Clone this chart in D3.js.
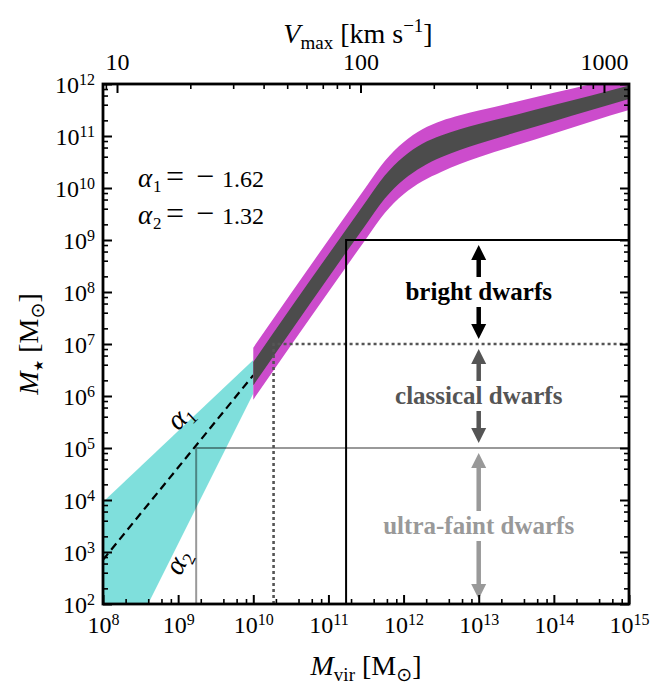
<!DOCTYPE html>
<html>
<head>
<meta charset="utf-8">
<script src="https://cdn.jsdelivr.net/npm/d3@7"></script>
<style>
  body { margin: 0; background: #fff; }
  svg text { font-family: "Liberation Serif", "DejaVu Serif", serif; fill: #000; }
  .domain { display: none; }
  .tick line { stroke: #000; }
</style>
</head>
<body>
<script>
// stellar-to-halo mass band, log10 values
var bandLogMvir  = [10.0, 10.5, 11.0, 11.5, 11.75, 12.0, 12.25, 12.5, 12.75, 13.0, 13.5, 14.0, 14.5, 15.0, 15.2];
var bandLogMstar = [6.43, 7.47, 8.50, 9.52, 10.02, 10.38, 10.63, 10.80, 10.93, 11.04, 11.24, 11.44, 11.64, 11.84, 11.92];
var innerHalf    = [0.225, 0.225, 0.22, 0.22, 0.22, 0.22, 0.22, 0.21, 0.20, 0.19, 0.17, 0.155, 0.14, 0.13, 0.13];
var outerHalf    = [0.50, 0.50, 0.50, 0.50, 0.50, 0.50, 0.50, 0.49, 0.47, 0.45, 0.42, 0.39, 0.36, 0.34, 0.34];

// low-mass extrapolation wedge (alpha1 / alpha2) and the dashed mean line
var wedgeLogMvir  = [8.0, 10.0, 10.0, 8.6, 8.0];
var wedgeLogMstar = [3.96, 6.69, 6.05, 2.0, 2.0];
var dashLogMvir   = [8.0, 10.0];
var dashLogMstar  = [2.85, 6.40];

// dwarf classes: halo-mass thresholds and stellar-mass bounds
var threshLogMvir  = [9.24, 10.27, 11.235];
var threshLogMstar = [5, 7, 9];
var classNames  = ["ultra-faint dwarfs", "classical dwarfs", "bright dwarfs"];
var classLow    = [2, 5, 7];
var classHigh   = [5, 7, 9];
var classColors = ["#999999", "#555555", "#000000"];
var arrowLogMvir = 13;

var alphaNames  = ["1", "2"];
var alphaValues = ["1.62", "1.32"];

// axes
var xDomain = [1e8, 1e15];
var yDomain = [1e2, 1e12];
var vmaxDomain = [8.76, 1267];
var vmaxMajor = [10, 100, 1000];

var W = 664, H = 687;
var margin = {top: 84, right: 35, bottom: 83, left: 103};
var width = W - margin.left - margin.right,
    height = H - margin.top - margin.bottom;

var svg = d3.select("body").append("svg")
    .attr("width", W)
    .attr("height", H);

var g = svg.append("g")
    .attr("transform", "translate(" + margin.left + "," + margin.top + ")");

var x = d3.scaleLog().domain(xDomain).range([0, width]);
var y = d3.scaleLog().domain(yDomain).range([height, 0]);
var xTop = d3.scaleLog().domain(vmaxDomain).range([0, width]);

g.append("clipPath").attr("id", "plotclip")
  .append("rect").attr("width", width).attr("height", height);

var plot = g.append("g").attr("clip-path", "url(#plotclip)");

// cyan wedge
var wedge = wedgeLogMvir.map(function(m, i) { return [x(Math.pow(10, m)), y(Math.pow(10, wedgeLogMstar[i]))]; });
plot.append("path")
    .attr("d", "M" + wedge.join("L") + "Z")
    .attr("fill", "#7fdfdc");

plot.append("path")
    .datum(dashLogMvir.map(function(m, i) { return [m, dashLogMstar[i]]; }))
    .attr("fill", "none")
    .attr("stroke", "#000")
    .attr("stroke-width", 2.2)
    .attr("stroke-dasharray", "8,5")
    .attr("d", d3.line()
      .x(function(d) { return x(Math.pow(10, d[0])); })
      .y(function(d) { return y(Math.pow(10, d[1])); }));

// band
var band = bandLogMvir.map(function(m, i) {
  return {m: m, s: bandLogMstar[i], a: innerHalf[i], b: outerHalf[i]};
});

function bandArea(key) {
  return d3.area()
    .curve(d3.curveMonotoneX)
    .x(function(d) { return x(Math.pow(10, d.m)); })
    .y0(function(d) { return y(Math.pow(10, d.s - d[key])); })
    .y1(function(d) { return y(Math.pow(10, d.s + d[key])); });
}

plot.append("path").datum(band).attr("fill", "#cc4ccc").attr("d", bandArea("b"));
plot.append("path").datum(band).attr("fill", "#4c4c4c").attr("d", bandArea("a"));

// threshold boxes
var lineStyles = [
  {stroke: "#000", opacity: 0.4, width: 2, dash: null},
  {stroke: "#555", opacity: 1, width: 2.6, dash: "3,3"},
  {stroke: "#000", opacity: 1, width: 2, dash: null}
];
threshLogMvir.forEach(function(m, i) {
  var xv = x(Math.pow(10, m)), yv = y(Math.pow(10, threshLogMstar[i]));
  var s = lineStyles[i];
  plot.append("path")
    .attr("d", "M" + xv + "," + height + "L" + xv + "," + yv + "L" + width + "," + yv)
    .attr("fill", "none")
    .attr("stroke", s.stroke)
    .attr("stroke-opacity", s.opacity)
    .attr("stroke-width", s.width)
    .attr("stroke-dasharray", s.dash);
});

// class labels with arrows
var ax = x(Math.pow(10, arrowLogMvir));
function arrow(y0, y1, col) {
  var dir = y1 > y0 ? 1 : -1;
  var hb = y1 - dir * 15;
  plot.append("line")
    .attr("x1", ax).attr("x2", ax)
    .attr("y1", y0).attr("y2", hb)
    .attr("stroke", col).attr("stroke-width", 4.5);
  plot.append("path")
    .attr("d", "M" + (ax - 7.5) + "," + hb + "L" + (ax + 7.5) + "," + hb + "L" + ax + "," + y1 + "Z")
    .attr("fill", col);
}
classNames.forEach(function(name, i) {
  var lo = classLow[i], hi = classHigh[i];
  var yc = y(Math.pow(10, (lo + hi) / 2));
  arrow(yc - 15, y(Math.pow(10, hi)) + 5, classColors[i]);
  arrow(yc + 15, y(Math.pow(10, lo)) - 5, classColors[i]);
  plot.append("text")
    .attr("x", ax).attr("y", yc)
    .attr("dy", "0.33em")
    .attr("text-anchor", "middle")
    .style("font-weight", "bold")
    .style("font-size", "25px")
    .style("fill", classColors[i])
    .text(name);
});

// alpha labels along the wedge edges
var alphaPos = [[9.03, 5.60, -44], [9.0, 2.81, -63]];
alphaPos.forEach(function(p, i) {
  var t = plot.append("text")
    .attr("transform", "translate(" + x(Math.pow(10, p[0])) + "," + y(Math.pow(10, p[1])) + ") rotate(" + p[2] + ")")
    .attr("text-anchor", "middle")
    .attr("dy", "0.3em")
    .style("font-size", "29px");
  t.append("tspan").style("font-style", "italic").text("α");
  t.append("tspan").attr("dy", "0.3em").style("font-size", "18px").text(alphaNames[i]);
});

// alpha values
alphaValues.forEach(function(v, i) {
  var yb = 103 + i * 37;
  var t = g.append("text").attr("y", yb).style("font-size", "24px");
  t.append("tspan").attr("x", 35).style("font-style", "italic").style("font-size", "27px").text("α");
  t.append("tspan").attr("x", 50).attr("dy", "5").style("font-size", "17px").text(alphaNames[i]);
  t.append("tspan").attr("x", 63).attr("y", yb).style("font-size", "32px").text("=");
  t.append("tspan").attr("x", 93).style("font-size", "32px").text("−");
  t.append("tspan").attr("x", 119).text(v);
});

// axes
function minorTicks(lo, hi, subs) {
  var out = [];
  for (var e = Math.floor(Math.log10(lo)) - 1; e <= Math.log10(hi) + 1; e++) {
    subs.forEach(function(s) {
      var v = s * Math.pow(10, e);
      if (v > lo && v < hi) out.push(v);
    });
  }
  return out;
}
function decades(lo, hi) {
  return d3.range(Math.round(Math.log10(lo)), Math.round(Math.log10(hi)) + 1).map(function(e) { return Math.pow(10, e); });
}
function powLabels(sel) {
  sel.selectAll(".tick text").each(function(d) {
    var t = d3.select(this).text("");
    t.append("tspan").text("10");
    t.append("tspan").attr("dy", "-0.5em").style("font-size", "16px").text(Math.round(Math.log10(d)));
  });
}

var xAxis = g.append("g").attr("transform", "translate(0," + height + ")")
  .call(d3.axisBottom(x).tickValues(decades(xDomain[0], xDomain[1])).tickSize(-9).tickPadding(12));
xAxis.selectAll(".tick line").attr("stroke-width", 2);
xAxis.selectAll(".tick text").style("font-size", "24px").attr("dy", "0.72em");
powLabels(xAxis);
g.append("g").attr("transform", "translate(0," + height + ")")
  .call(d3.axisBottom(x).tickValues(minorTicks(xDomain[0], xDomain[1], [2, 4, 6, 8])).tickSize(-5).tickFormat(""))
  .selectAll(".tick line").attr("stroke-width", 1.6);

var yAxis = g.append("g")
  .call(d3.axisLeft(y).tickValues(decades(yDomain[0], yDomain[1])).tickSize(-9).tickPadding(8));
yAxis.selectAll(".tick line").attr("stroke-width", 2);
yAxis.selectAll(".tick text").style("font-size", "24px").attr("dy", "0.36em");
powLabels(yAxis);
g.append("g")
  .call(d3.axisLeft(y).tickValues(minorTicks(yDomain[0], yDomain[1], [2, 4, 6, 8])).tickSize(-5).tickFormat(""))
  .selectAll(".tick line").attr("stroke-width", 1.6);

var yRight = g.append("g").attr("transform", "translate(" + width + ",0)")
  .call(d3.axisRight(y).tickValues(decades(yDomain[0], yDomain[1])).tickSize(-9).tickFormat(""));
yRight.selectAll(".tick line").attr("stroke-width", 2);
g.append("g").attr("transform", "translate(" + width + ",0)")
  .call(d3.axisRight(y).tickValues(minorTicks(yDomain[0], yDomain[1], [2, 4, 6, 8])).tickSize(-5).tickFormat(""))
  .selectAll(".tick line").attr("stroke-width", 1.6);

var topAxis = g.append("g")
  .call(d3.axisTop(xTop).tickValues(vmaxMajor).tickSize(-9).tickPadding(14).tickFormat(d3.format("d")));
topAxis.selectAll(".tick line").attr("stroke-width", 2);
topAxis.selectAll(".tick text").style("font-size", "24px");
g.append("g")
  .call(d3.axisTop(xTop).tickValues(minorTicks(vmaxDomain[0], vmaxDomain[1], [2, 3, 4, 5, 6, 7, 8, 9])).tickSize(-5).tickFormat(""))
  .selectAll(".tick line").attr("stroke-width", 1.6);

// frame
g.append("rect")
  .attr("width", width).attr("height", height)
  .attr("fill", "none").attr("stroke", "#000").attr("stroke-width", 2.8);

// axis labels
var xl = svg.append("text")
  .attr("x", margin.left + width / 2).attr("y", 675)
  .attr("text-anchor", "middle").style("font-size", "28px");
xl.append("tspan").style("font-style", "italic").text("M");
xl.append("tspan").attr("dy", "6").style("font-size", "19px").text("vir");
xl.append("tspan").attr("dy", "-6").text(" [M");
xl.append("tspan").attr("dy", "6").style("font-size", "19px").style("font-family", "DejaVu Sans").text("⊙");
xl.append("tspan").attr("dy", "-6").text("]");

var yl = svg.append("text")
  .attr("transform", "translate(38," + (margin.top + height / 2) + ") rotate(-90)")
  .attr("text-anchor", "middle").style("font-size", "28px");
yl.append("tspan").style("font-style", "italic").text("M");
yl.append("tspan").attr("dy", "5").style("font-size", "13px").style("font-family", "DejaVu Sans").text("★");
yl.append("tspan").attr("dy", "-5").text(" [M");
yl.append("tspan").attr("dy", "6").style("font-size", "19px").style("font-family", "DejaVu Sans").text("⊙");
yl.append("tspan").attr("dy", "-6").text("]");

var tl = svg.append("text")
  .attr("x", 358).attr("y", 43)
  .attr("text-anchor", "middle").style("font-size", "28px");
tl.append("tspan").style("font-style", "italic").text("V");
tl.append("tspan").attr("dy", "6").style("font-size", "19px").text("max");
tl.append("tspan").attr("dy", "-6").text(" [km s");
tl.append("tspan").attr("dy", "-11").style("font-size", "19px").text("−1");
tl.append("tspan").attr("dy", "11").text("]");
</script>
</body>
</html>
